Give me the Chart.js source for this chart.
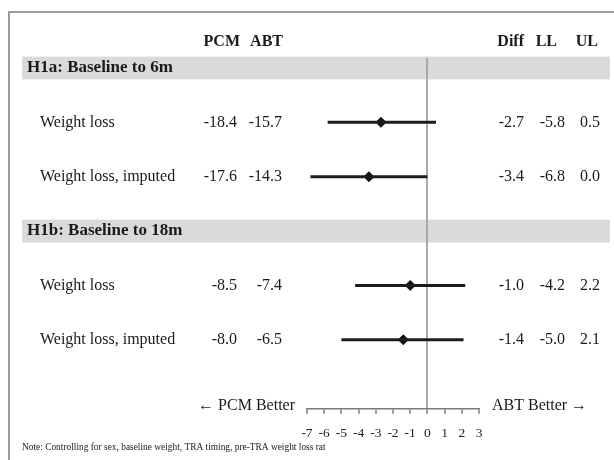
<!DOCTYPE html>
<html>
<head>
<meta charset="utf-8">
<script src="https://cdn.jsdelivr.net/npm/chart.js@4"></script>
<style>
  html, body { margin: 0; padding: 0; background: #fff; }
  #wrap { width: 614px; height: 460px; position: relative; }
</style>
</head>
<body>
<div id="wrap"><canvas id="forest" width="614" height="460"></canvas></div>
<script>
// rows from top to bottom: section bands and outcome rows (y = row position)
const sections = ['H1a: Baseline to 6m', 'H1b: Baseline to 18m'];
const sectionRows = [0, 3];
const labels = ['Weight loss', 'Weight loss, imputed', 'Weight loss', 'Weight loss, imputed'];
const rowPos = [1, 2, 4, 5];
const pcm = [-18.4, -17.6, -8.5, -8.0];
const abt = [-15.7, -14.3, -7.4, -6.5];
const diff = [-2.7, -3.4, -1.0, -1.4];
const lower = [-5.8, -6.8, -4.2, -5.0];
const upper = [0.5, 0.0, 2.2, 2.1];
const xTicks = [-7, 3];

const SERIF = '"Liberation Serif", "Times New Roman", serif';
const fmt = v => v.toFixed(1);

// error bars, one line per row
const barSets = rowPos.map((y, i) => ({
  type: 'scatter',
  showLine: true,
  data: [{ x: lower[i], y: y }, { x: upper[i], y: y }],
  borderColor: '#1c1c1c',
  borderWidth: 3,
  pointRadius: 0,
  pointHoverRadius: 0
}));

const pointSet = {
  type: 'scatter',
  data: rowPos.map((y, i) => ({ x: diff[i], y: y })),
  pointStyle: 'rectRot',
  pointRadius: 5,
  backgroundColor: '#111',
  borderColor: '#111',
  borderWidth: 1
};

// text columns and section bands
const tablePlugin = {
  id: 'table',
  beforeDraw(chart) {
    const { ctx } = chart;
    const ys = chart.scales.y;
    ctx.save();
    // frame
    ctx.strokeStyle = '#9c9c9c';
    ctx.lineWidth = 2;
    ctx.beginPath();
    ctx.moveTo(9, 460);
    ctx.lineTo(9, 12);
    ctx.lineTo(614, 12);
    ctx.stroke();
    // section bands
    ctx.fillStyle = '#dadada';
    sectionRows.forEach(r => {
      const top = ys.getPixelForValue(r - 0.21);
      const bot = ys.getPixelForValue(r + 0.21);
      ctx.fillRect(22, top, 588, bot - top);
    });
    ctx.restore();
  },
  afterDraw(chart) {
    const { ctx } = chart;
    const ys = chart.scales.y;
    ctx.save();
    ctx.fillStyle = '#1a1a1a';
    ctx.textBaseline = 'middle';

    // header
    const hy = ys.getPixelForValue(-0.48);
    ctx.font = 'bold 16px ' + SERIF;
    ctx.textAlign = 'right';
    [['PCM', 240], ['ABT', 283], ['Diff', 524], ['LL', 557], ['UL', 598]].forEach(([t, x]) => {
      ctx.fillText(t, x, hy);
    });

    // section titles
    ctx.font = 'bold 17px ' + SERIF;
    ctx.textAlign = 'left';
    sections.forEach((s, i) => {
      ctx.fillText(s, 27, ys.getPixelForValue(sectionRows[i]));
    });

    // rows
    ctx.font = '16px ' + SERIF;
    rowPos.forEach((r, i) => {
      const y = ys.getPixelForValue(r);
      ctx.textAlign = 'left';
      ctx.fillText(labels[i], 40, y);
      ctx.textAlign = 'right';
      ctx.fillText(fmt(pcm[i]), 237, y);
      ctx.fillText(fmt(abt[i]), 282, y);
      ctx.fillText(fmt(diff[i]), 524, y);
      ctx.fillText(fmt(lower[i]), 565, y);
      ctx.fillText(fmt(upper[i]), 600, y);
    });

    // direction labels
    const ay = chart.chartArea.bottom - 3;
    ctx.font = '16px ' + SERIF;
    ctx.textAlign = 'right';
    ctx.fillText('\u2190 PCM Better', 295, ay);
    ctx.textAlign = 'left';
    ctx.fillText('ABT Better \u2192', 492, ay);

    // note, cut off like the source
    ctx.beginPath();
    ctx.rect(0, 436, 325, 24);
    ctx.clip();
    ctx.font = '9.4px ' + SERIF;
    ctx.fillText('Note: Controlling for sex, baseline weight, TRA timing, pre-TRA weight loss rate', 22, 448);
    ctx.restore();
  }
};

new Chart(document.getElementById('forest'), {
  type: 'scatter',
  data: { datasets: [...barSets, pointSet] },
  options: {
    responsive: false,
    animation: false,
    events: [],
    layout: { padding: { left: 307, right: 135, top: 58, bottom: 6 } },
    plugins: { legend: { display: false }, tooltip: { enabled: false } },
    scales: {
      x: {
        type: 'linear',
        min: xTicks[0],
        max: xTicks[1],
        ticks: {
          stepSize: 1,
          padding: 12,
          autoSkip: false,
          maxRotation: 0,
          minRotation: 0,
          color: '#222',
          font: { family: SERIF, size: 13.5 }
        },
        grid: {
          color: c => (c.tick && c.tick.value === 0 ? '#a9a9a9' : 'rgba(0,0,0,0)'),
          lineWidth: 2,
          tickColor: '#7a7a7a',
          tickWidth: 1.5,
          tickLength: 5
        },
        border: { display: true, color: '#7a7a7a', width: 1.5 }
      },
      y: {
        type: 'linear',
        display: false,
        reverse: true,
        min: -0.184,
        max: 6.27
      }
    }
  },
  plugins: [tablePlugin]
});
</script>
</body>
</html>
